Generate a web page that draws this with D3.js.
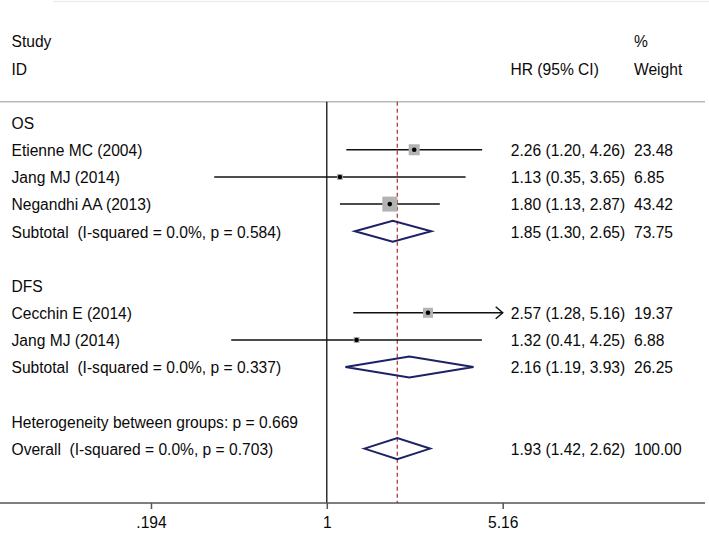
<!DOCTYPE html>
<html>
<head>
<meta charset="utf-8">
<script src="https://cdn.jsdelivr.net/npm/d3@7"></script>
<style>
  html, body { margin: 0; padding: 0; background: #fff; }
  svg { display: block; }
  text { font-family: "Liberation Sans", Arial, Helvetica, sans-serif; fill: #0a0a0a; white-space: pre; }
</style>
</head>
<body>
<svg id="chart" width="709" height="548"></svg>
<script>
// ---------- data ----------
const rowLabels = [
  "OS",
  "Etienne MC (2004)",
  "Jang MJ (2014)",
  "Negandhi AA (2013)",
  "Subtotal  (I-squared = 0.0%, p = 0.584)",
  "",
  "DFS",
  "Cecchin E (2014)",
  "Jang MJ (2014)",
  "Subtotal  (I-squared = 0.0%, p = 0.337)",
  "",
  "Heterogeneity between groups: p = 0.669",
  "Overall  (I-squared = 0.0%, p = 0.703)"
];
const rowTypes = ["group","study","study","study","sub","blank","group","study","study","sub","blank","note","overall"];
const hr      = [null, 2.26, 1.13, 1.80, 1.85, null, null, 2.57, 1.32, 2.16, null, null, 1.93];
const ciLow   = [null, 1.20, 0.35, 1.13, 1.30, null, null, 1.28, 0.41, 1.19, null, null, 1.42];
const ciHigh  = [null, 4.26, 3.65, 2.87, 2.65, null, null, 5.16, 4.25, 3.93, null, null, 2.62];
const weights = [null, 23.48, 6.85, 43.42, 73.75, null, null, 19.37, 6.88, 26.25, null, null, 100.00];
const tickValues = [0.194, 1, 5.16];
const tickLabels = [".194", "1", "5.16"];
const overallHR = 1.93;
const headerLeft = ["Study", "ID"];
const headerCI = "HR (95% CI)";
const headerWeight = ["%", "Weight"];

// ---------- layout ----------
const svg = d3.select("#chart");
const W = 709;
const x = d3.scaleLog().domain([0.194, 5.16]).range([151, 502.7]);
const y = d3.scaleLinear().domain([0, rowLabels.length - 1]).range([122.6, 448.6]);
const sepY = 101.7, axisY = 503;
const xLabel = 11.5, xCI = 510.8, xWt = 634;
const fs = 15.6;
const studyW = weights.map((w, i) => rowTypes[i] === "study" ? w : 0);
const boxSide = d3.scaleSqrt().domain([0, d3.max(studyW)]).range([0, 15]);

// faint frame remnant at top
svg.append("line").attr("x1", 53).attr("x2", W).attr("y1", 1.5).attr("y2", 1.5)
  .attr("stroke", "#e9eff1").attr("stroke-width", 1.5);

// header
svg.selectAll("text.hl").data(headerLeft).join("text").attr("class", "hl")
  .attr("x", xLabel).attr("y", (d, i) => 47 + i * 28).attr("font-size", fs).text(d => d);
svg.append("text").attr("x", 510.5).attr("y", 75).attr("font-size", fs).text(headerCI);
svg.selectAll("text.hw").data(headerWeight).join("text").attr("class", "hw")
  .attr("x", xWt).attr("y", (d, i) => 47 + i * 28).attr("font-size", fs).text(d => d);

// separator
svg.append("line").attr("x1", 0).attr("x2", W - 4).attr("y1", sepY).attr("y2", sepY)
  .attr("stroke", "#b9b9b9").attr("stroke-width", 1.5);

// null line
svg.append("line").attr("x1", x(1)).attr("x2", x(1)).attr("y1", sepY).attr("y2", axisY)
  .attr("stroke", "#111").attr("stroke-width", 1.3);
// overall dashed line
svg.append("line").attr("x1", x(overallHR)).attr("x2", x(overallHR)).attr("y1", sepY).attr("y2", axisY)
  .attr("stroke", "#b22a2a").attr("stroke-width", 1.2).attr("stroke-dasharray", "4,3");

// row labels
const rows = rowLabels.map((lab, i) => ({ lab, i, type: rowTypes[i], hr: hr[i], lo: ciLow[i], hi: ciHigh[i], w: weights[i] }));
svg.selectAll("text.rl").data(rows.filter(d => d.lab)).join("text").attr("class", "rl")
  .attr("x", xLabel).attr("y", d => y(d.i) + 6.3).attr("font-size", fs)
  .attr("xml:space", "preserve").text(d => d.lab);

const f2 = d3.format(".2f");
const est = rows.filter(d => d.hr != null);
svg.selectAll("text.ci").data(est).join("text").attr("class", "ci")
  .attr("x", xCI).attr("y", d => y(d.i) + 6.3).attr("font-size", fs)
  .text(d => `${f2(d.hr)} (${f2(d.lo)}, ${f2(d.hi)})`);
svg.selectAll("text.wt").data(est).join("text").attr("class", "wt")
  .attr("x", xWt).attr("y", d => y(d.i) + 6.3).attr("font-size", fs)
  .text(d => f2(d.w));

// studies
const studies = est.filter(d => d.type === "study");
const xMax = x.domain()[1];
svg.selectAll("line.ciLine").data(studies).join("line").attr("class", "ciLine")
  .attr("x1", d => x(d.lo)).attr("x2", d => x(Math.min(d.hi, xMax)))
  .attr("y1", d => y(d.i)).attr("y2", d => y(d.i))
  .attr("stroke", "#111").attr("stroke-width", 1.5);
svg.selectAll("rect.box").data(studies).join("rect").attr("class", "box")
  .attr("x", d => x(d.hr) - boxSide(d.w) / 2).attr("y", d => y(d.i) - boxSide(d.w) / 2)
  .attr("width", d => boxSide(d.w)).attr("height", d => boxSide(d.w))
  .attr("fill", "#b3b3b3");
svg.selectAll("circle.pt").data(studies).join("circle").attr("class", "pt")
  .attr("cx", d => x(d.hr)).attr("cy", d => y(d.i)).attr("r", 2.3).attr("fill", "#000");
// arrows for CIs reaching the axis limit
svg.selectAll("path.arrow").data(studies.filter(d => d.hi >= xMax)).join("path").attr("class", "arrow")
  .attr("d", d => { const ax = x(xMax), ay = y(d.i); return `M${ax - 7},${ay - 6}L${ax},${ay}L${ax - 7},${ay + 6}`; })
  .attr("fill", "none").attr("stroke", "#111").attr("stroke-width", 1.5);

// diamonds
const pooled = est.filter(d => d.type === "sub" || d.type === "overall");
svg.selectAll("path.dia").data(pooled).join("path").attr("class", "dia")
  .attr("d", d => { const cy = y(d.i), h = 10.5;
    return `M${x(d.lo)},${cy}L${x(d.hr)},${cy - h}L${x(d.hi)},${cy}L${x(d.hr)},${cy + h}Z`; })
  .attr("fill", "none").attr("stroke", "#1b2266").attr("stroke-width", 2);

// axis
svg.append("line").attr("x1", 0).attr("x2", W - 4).attr("y1", axisY).attr("y2", axisY)
  .attr("stroke", "#555").attr("stroke-width", 1.5);
const axis = d3.axisBottom(x).tickValues(tickValues).tickSize(6).tickPadding(8)
  .tickFormat((d, i) => tickLabels[i]);
const gAx = svg.append("g").attr("transform", `translate(0,${axisY})`).call(axis);
gAx.select(".domain").remove();
gAx.selectAll(".tick line").attr("stroke", "#555").attr("stroke-width", 1.5);
gAx.selectAll(".tick text").attr("font-size", fs).attr("fill", "#0a0a0a")
  .attr("font-family", "\"Liberation Sans\", Arial, sans-serif");
</script>
</body>
</html>
